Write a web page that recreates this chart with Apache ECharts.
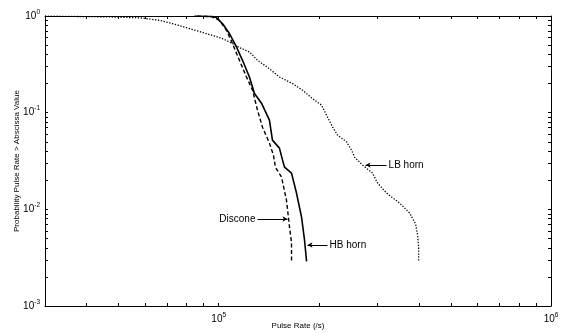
<!DOCTYPE html>
<html>
<head>
<meta charset="utf-8">
<script src="https://cdn.jsdelivr.net/npm/echarts@6/dist/echarts.min.js"></script>
<style>
  html, body { margin: 0; padding: 0; background: #fff; }
  #chart { width: 565px; height: 333px; }
</style>
</head>
<body>
<div id="chart"></div>
<script>
// Exceedance curves: probability that the pulse rate exceeds a given value.
const lbRate = [30000, 38050, 46870, 57700, 66290, 72540, 81600, 91830, 102600, 110000,
  115400, 123700, 130800, 140200, 152300, 166700, 178700, 191500, 203900, 211000,
  220000, 227800, 242400, 251000, 256300, 270900, 290400, 300600, 320000, 350300,
  375300, 391300, 396700, 399500, 399500];
const lbProb = [0.998, 0.988, 0.979, 0.958, 0.903, 0.835, 0.741, 0.658, 0.584, 0.519,
  0.472, 0.425, 0.348, 0.295, 0.234, 0.200, 0.171, 0.140, 0.1196, 0.0942,
  0.0713, 0.0586, 0.0499, 0.041, 0.0347, 0.0287, 0.0237, 0.0187, 0.01474, 0.01161,
  0.00916, 0.00705, 0.00543, 0.00408, 0.0029];

const hbRate = [84500, 95700, 98400, 102600, 107700, 113100, 117900, 123700, 128100, 134500,
  142100, 145100, 152300, 155600, 157800, 165600, 171400, 177500, 181200, 183800];
const hbProb = [1.0, 0.988, 0.963, 0.835, 0.658, 0.478, 0.348, 0.234, 0.158, 0.1253,
  0.0836, 0.052, 0.043, 0.0323, 0.0273, 0.0237, 0.01474, 0.00833, 0.00482, 0.0029];

const disRate = [86250, 95060, 100500, 105500, 110000, 115400, 121200, 126400, 130800, 135400,
  142100, 146100, 148100, 154500, 159900, 163300, 165600, 165600];
const disProb = [1.0, 0.986, 0.903, 0.712, 0.519, 0.348, 0.234, 0.171, 0.1061, 0.0708,
  0.0484, 0.0364, 0.0273, 0.0216, 0.01247, 0.00658, 0.0045, 0.0029];

// Axis ranges and tick positions
const xMin = 30000, xMax = 1000000;
const yMin = 0.001, yMax = 1;
const xTickValues = [30000, 40000, 50000, 60000, 70000, 80000, 90000,
  100000, 200000, 300000, 400000, 500000, 600000, 700000, 800000, 900000, 1000000];
const xLabelValues = [100000, 1000000];
const yTickValues = [0.001, 0.002, 0.003, 0.004, 0.005, 0.006, 0.007, 0.008, 0.009,
  0.01, 0.02, 0.03, 0.04, 0.05, 0.06, 0.07, 0.08, 0.09,
  0.1, 0.2, 0.3, 0.4, 0.5, 0.6, 0.7, 0.8, 0.9, 1];
const yLabelValues = [0.001, 0.01, 0.1, 1];

// Curve annotations: [label, arrow tail rate, arrow head rate, probability]
const noteLB = ['LB horn', 320000, 276600, 0.0287];
const noteHB = ['HB horn', 212500, 185000, 0.00428];
const noteDis = ['Discone', 130800, 161000, 0.00794];

const FONT = "'Liberation Sans', Arial, Helvetica, sans-serif";

function zip(xs, ys) { return xs.map((x, i) => [x, ys[i]]); }

function powLabel(v) {
  const e = Math.round(Math.log10(v));
  return '{b|10}{s|' + e + '}';
}
const powRich = {
  b: { fontSize: 10, fontFamily: FONT, color: '#000' },
  s: { fontSize: 6.5, fontFamily: FONT, color: '#000', padding: [0, 0, 8, 0] }
};

function note(n, pos) {
  return [
    { coord: [n[1], n[3]], symbol: 'none',
      label: { show: true, position: pos, formatter: n[0], distance: 2,
               fontSize: 10, fontFamily: FONT, color: '#000' } },
    { coord: [n[2], n[3]], symbol: 'arrow', symbolSize: [4, 5] }
  ];
}

const common = { axisLine: { show: true, onZero: false, lineStyle: { color: '#000', width: 1 } },
  splitLine: { show: false } };

function xAxisDef(pos, showLabel) {
  return Object.assign({
    type: 'log', logBase: 10, min: xMin, max: xMax, position: pos,
    axisTick: { show: true, inside: true, length: 3, customValues: xTickValues,
                lineStyle: { color: '#000', width: 1 } },
    axisLabel: { show: showLabel, customValues: xLabelValues, margin: 6,
                 formatter: powLabel, rich: powRich },
    name: showLabel ? 'Pulse Rate (/s)' : '',
    nameLocation: 'middle', nameGap: 16, nameMoveOverlap: false,
    nameTextStyle: { fontSize: 8, fontFamily: FONT, color: '#000' }
  }, common);
}
function yAxisDef(pos, showLabel) {
  return Object.assign({
    type: 'log', logBase: 10, min: yMin, max: yMax, position: pos,
    axisTick: { show: true, inside: true, length: 3, customValues: yTickValues,
                lineStyle: { color: '#000', width: 1 } },
    axisLabel: { show: showLabel, customValues: yLabelValues, margin: 5,
                 formatter: powLabel, rich: powRich },
    name: showLabel ? 'Probability Pulse Rate > Abscissa Value' : '',
    nameLocation: 'middle', nameGap: 24, nameMoveOverlap: false,
    nameTextStyle: { fontSize: 8, fontFamily: FONT, color: '#000' }
  }, common);
}

const chart = echarts.init(document.getElementById('chart'), null, { renderer: 'canvas' });
chart.setOption({
  animation: false,
  backgroundColor: '#fff',
  grid: { left: 45, right: 14, top: 16, bottom: 27, containLabel: false, outerBoundsMode: 'none' },
  xAxis: [xAxisDef('bottom', true), xAxisDef('top', false)],
  yAxis: [yAxisDef('left', true), yAxisDef('right', false)],
  series: [
    {
      name: 'LB horn', type: 'line', data: zip(lbRate, lbProb), showSymbol: false,
      lineStyle: { color: '#000', width: 1.3, type: [1.3, 1.6] },
      markLine: { silent: true, animation: false, symbol: ['none', 'arrow'],
        lineStyle: { color: '#000', width: 1, type: 'solid' },
        data: [note(noteLB, 'start')] }
    },
    {
      name: 'HB horn', type: 'line', data: zip(hbRate, hbProb), showSymbol: false,
      lineStyle: { color: '#000', width: 1.6, type: 'solid' },
      markLine: { silent: true, animation: false, symbol: ['none', 'arrow'],
        lineStyle: { color: '#000', width: 1, type: 'solid' },
        data: [note(noteHB, 'start')] }
    },
    {
      name: 'Discone', type: 'line', data: zip(disRate, disProb), showSymbol: false,
      lineStyle: { color: '#000', width: 1.4, type: [4, 2.5] },
      markLine: { silent: true, animation: false, symbol: ['none', 'arrow'],
        lineStyle: { color: '#000', width: 1, type: 'solid' },
        data: [note(noteDis, 'start')] }
    }
  ]
});
</script>
</body>
</html>
